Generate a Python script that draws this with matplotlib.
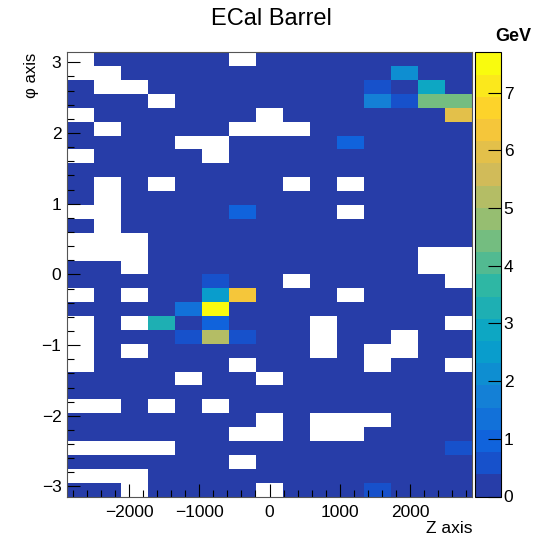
import numpy as np
import matplotlib
matplotlib.use("Agg")
import matplotlib.pyplot as plt
from matplotlib.colors import ListedColormap, BoundaryNorm

plt.rcParams['font.family'] = ['Liberation Sans', 'DejaVu Sans']

# binning of the calorimeter hit map
z_min, z_max, n_z = -2885, 2885, 15
phi_min, phi_max, n_phi = -np.pi, np.pi, 32

# occupancy per phi row, top (phi = +pi) to bottom; '.' = empty bin, '#' = low-energy hit
occupancy = [
    ".#####.########",
    "..#############",
    "#..############",
    "###.###########",
    ".######.#######",
    "#.####...######",
    "####..#########",
    ".####.#########",
    "###############",
    "#.#.####.#.####",
    "#.#############",
    "..########.####",
    "#.#############",
    "...############",
    "...##########..",
    "##.##########..",
    "########.#####.",
    ".#.#######.####",
    "###############",
    ".#.######.####.",
    ".########.##.##",
    ".#.######.#..##",
    ".#####.####.##.",
    "####.##.#######",
    "###############",
    "..#.#.#########",
    "#######.#...###",
    "######..#..####",
    "....###########",
    "######.########",
    "...############",
    "##.####.#######",
]
low_energy = 0.1

# bins with larger deposits: z bin, phi row (from top), energy in GeV
hot_z_bin = [12, 11, 13, 11, 12, 13, 14, 14, 10, 6, 5, 5, 6, 4, 5, 3, 5, 4, 5, 6, 14, 11]
hot_phi_row = [1, 2, 2, 3, 3, 3, 3, 4, 6, 11, 16, 17, 17, 18, 18, 19, 19, 20, 20, 20, 28, 31]
hot_energy = [2.2, 0.6, 2.9, 1.8, 0.6, 4.4, 4.4, 6.0, 0.9, 0.9, 0.6, 2.5, 6.4, 1.5, 7.7,
              3.4, 0.8, 0.6, 5.2, 0.6, 0.6, 0.7]

e_max = 7.7
n_levels = 20

# ROOT kBird palette
bird_stops = [0.0, 0.125, 0.25, 0.375, 0.5, 0.625, 0.75, 0.875, 1.0]
bird_r = [0.2082, 0.0592, 0.0780, 0.0232, 0.1802, 0.5301, 0.8186, 0.9956, 0.9764]
bird_g = [0.1664, 0.3599, 0.5041, 0.6419, 0.7178, 0.7492, 0.7328, 0.7862, 0.9832]
bird_b = [0.5293, 0.8684, 0.8385, 0.7914, 0.6425, 0.4662, 0.3499, 0.1968, 0.0539]

band_colors = []
for i in range(n_levels):
    idx = int((i + 0.99) * 255 / n_levels)
    t = min(idx, 254) / 254
    band_colors.append((np.interp(t, bird_stops, bird_r),
                        np.interp(t, bird_stops, bird_g),
                        np.interp(t, bird_stops, bird_b)))
cmap = ListedColormap(band_colors)
cmap.set_bad('white')
norm = BoundaryNorm(np.linspace(0, e_max, n_levels + 1), n_levels)

# build the histogram
energy = np.zeros((n_phi, n_z))
for r, row in enumerate(occupancy):
    for c, ch in enumerate(row):
        if ch == '#':
            energy[r, c] = low_energy
for c, r, e in zip(hot_z_bin, hot_phi_row, hot_energy):
    energy[r, c] = e
energy = np.flipud(energy)
energy = np.ma.masked_equal(energy, 0)

z_edges = np.linspace(z_min, z_max, n_z + 1)
phi_edges = np.linspace(phi_min, phi_max, n_phi + 1)

fig = plt.figure(figsize=(5.37, 5.39), dpi=100)
ax = fig.add_axes([67 / 537, 1 - 496.5 / 539, 405 / 537, 444.2 / 539])
mesh = ax.pcolormesh(z_edges, phi_edges, energy, cmap=cmap, norm=norm)

ax.set_xlim(z_min, z_max)
ax.set_ylim(phi_min, phi_max)
ax.set_xticks([-2000, -1000, 0, 1000, 2000])
ax.set_xticks(np.arange(-2800, 2801, 200), minor=True)
ax.set_yticks([-3, -2, -1, 0, 1, 2, 3])
ax.set_yticks(np.arange(-3.0, 3.01, 0.2), minor=True)
ax.tick_params(which='both', direction='in', top=False, right=False, labelsize=12.5)
ax.tick_params(which='major', length=9.5, width=0.8)
ax.tick_params(which='minor', length=5, width=0.8)
ax.tick_params(axis='x', pad=6)
ax.tick_params(axis='y', pad=4)
for s in ax.spines.values():
    s.set_linewidth(0.8)
    s.set_color('#555555')

ax.set_xlabel('Z axis', fontsize=12.5, loc='right', labelpad=1)
ax.set_ylabel('\u03c6 axis', fontsize=12, loc='top', labelpad=2)

fig.text(271 / 537, 1 - 19 / 539, 'ECal Barrel', fontsize=17, ha='center', va='center')

cax = fig.add_axes([475 / 537, 1 - 496.5 / 539, 26 / 537, 444.2 / 539])
cb = fig.colorbar(mesh, cax=cax, ticks=range(0, 8))
cb.minorticks_off()
cb.outline.set_linewidth(0.8)
cax.tick_params(which='major', direction='in', length=9.5, width=0.8, labelsize=12.5, pad=2)
cax.tick_params(which='minor', length=0)
fig.text(513 / 537, 1 - 36 / 539, 'GeV', fontsize=13, fontweight='bold', ha='center', va='center')

fig.savefig('out.png', dpi=100)
